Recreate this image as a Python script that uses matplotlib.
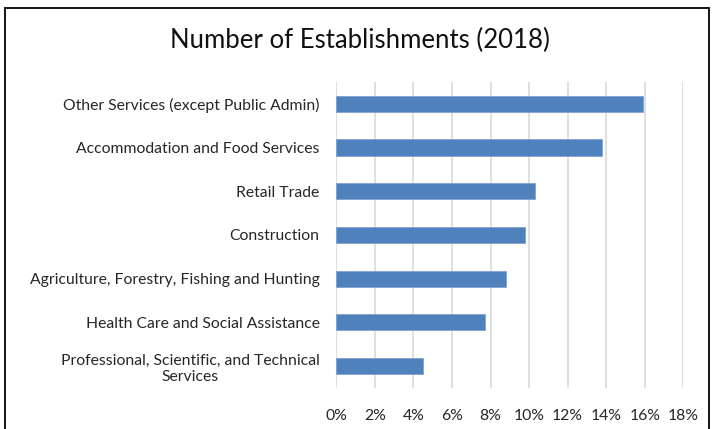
import matplotlib.pyplot as plt
from matplotlib.patches import Rectangle
from matplotlib.ticker import FuncFormatter

plt.rcParams['font.family'] = ['Lato', 'DejaVu Sans']

industries = [
    'Other Services (except Public Admin)',
    'Accommodation and Food Services',
    'Retail Trade',
    'Construction',
    'Agriculture, Forestry, Fishing and Hunting',
    'Health Care and Social Assistance',
    'Professional, Scientific, and Technical\nServices',
]
shares = [15.9, 13.8, 10.3, 9.8, 8.8, 7.7, 4.5]


def plot_establishments():
    fig = plt.figure(figsize=(7.13, 4.29), dpi=100)
    ax = fig.add_axes([0.4717, 0.0956, 0.4867, 0.7134])

    pos = list(range(len(industries)))[::-1]
    ax.barh(pos, shares, height=0.37, color='#4F81BD', edgecolor='#7FA3D1',
            linewidth=0.6, zorder=3)

    ax.set_xlim(0, 18)
    ax.set_ylim(-0.5, len(industries) - 0.5)
    ax.set_xticks(range(0, 19, 2))
    ax.xaxis.set_major_formatter(FuncFormatter(lambda v, _: f'{v:.0f}%'))
    ax.set_yticks(pos)
    ax.set_yticklabels(industries, multialignment='center')

    ax.grid(axis='x', color='#D9D9D9', linewidth=1.2, zorder=0)
    for s in ax.spines.values():
        s.set_visible(False)
    ax.tick_params(axis='both', length=0, labelsize=11.3, colors='#262626')
    ax.tick_params(axis='x', pad=15)
    ax.tick_params(axis='y', pad=12)

    fig.text(0.505, 0.905, 'Number of Establishments (2018)', ha='center',
             va='center', fontsize=18.5, color='#111111')

    # outer frame of the chart area
    fig.patches.append(Rectangle((5 / 713, -0.1), 704 / 713, 1.1 - 8 / 429,
                                 transform=fig.transFigure, fill=False,
                                 edgecolor='black', linewidth=1.3))

    fig.savefig('out.png', dpi=100)


plot_establishments()
